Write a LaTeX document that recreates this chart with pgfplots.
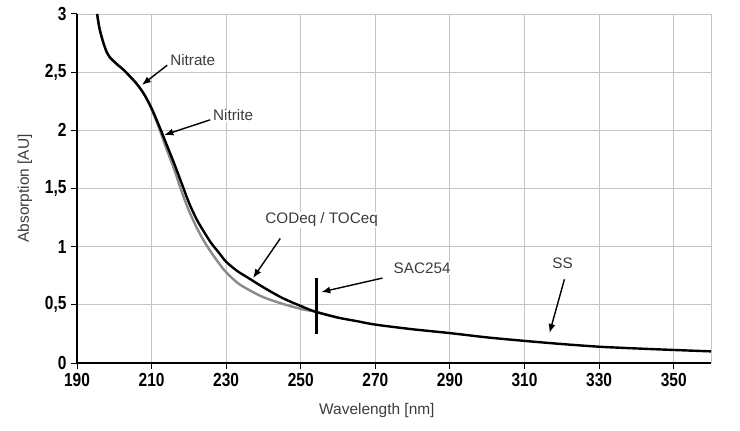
\documentclass[border=0pt]{standalone}
\usepackage{fontspec}
\setmainfont{Liberation Sans}
\newfontfamily\tickfont[FakeStretch=0.82]{Liberation Sans}
\usepackage{pgfplots}
\pgfplotsset{compat=1.18}
\usetikzlibrary{arrows.meta}

\definecolor{gridgray}{HTML}{C4C4C4}
\definecolor{labelgray}{HTML}{3C3C3C}
\definecolor{curvegray}{HTML}{8A8A8A}

% spectra
\pgfplotstableread{
lam A
195.4 3.00
196 2.88
197 2.76
198 2.67
199 2.62
200 2.59
201 2.56
202.5 2.52
204 2.47
206 2.40
208 2.31
210 2.19
212 2.04
214 1.88
216 1.72
218 1.55
220 1.38
222 1.24
224 1.13
226 1.03
228 0.95
230 0.87
233 0.79
236 0.73
240 0.65
245 0.56
250 0.49
254 0.44
260 0.39
265 0.36
270 0.33
280 0.29
290 0.257
300 0.22
310 0.19
320 0.163
330 0.14
340 0.125
350 0.112
360 0.10
}\blackspec

\pgfplotstableread{
lam A
195.4 3.00
196 2.88
197 2.76
198 2.67
199 2.62
200 2.59
201 2.56
202.5 2.52
204 2.47
206 2.40
208 2.31
210 2.18
212 2.02
214 1.84
216 1.67
218 1.48
220 1.31
222 1.17
224 1.05
226 0.95
228 0.86
230 0.78
233 0.69
236 0.63
240 0.565
245 0.51
250 0.465
254 0.44
260 0.39
}\grayspec

\begin{document}
\begin{tikzpicture}
\path[use as bounding box] (-77bp,-68bp) rectangle (663bp,363bp);
\begin{axis}[
    at={(0,0)}, anchor=south west,
    scale only axis,
    width=634bp, height=349bp,
    xmin=190, xmax=360,
    ymin=0, ymax=3,
    axis lines*=left,
    axis line style={black, line width=1.3bp},
    xtick={190,210,...,350},
    xticklabels={190,210,230,250,270,290,310,330,350},
    ytick={0,0.5,...,3},
    yticklabels={0,{0,5},1,{1,5},2,{2,5},3},
    extra x ticks={360},
    extra x tick labels={},
    extra x tick style={major tick length=0pt},
    tick align=outside,
    major tick length=6bp,
    tick style={black, line width=1bp},
    grid=major,
    grid style={gridgray, line width=0.9bp},
    ticklabel style={font=\tickfont\bfseries\fontsize{19}{21}\selectfont},
    xticklabel style={yshift=-1bp},
    yticklabel style={xshift=-1bp},
    xlabel={Wavelength [nm]},
    ylabel={Absorption [AU]},
    label style={font=\fontsize{15.5}{18}\selectfont, text=labelgray},
    xlabel style={at={(axis description cs:0.473,0)}, anchor=center, yshift=-48bp},
    ylabel style={at={(axis description cs:0,0.5)}, anchor=center, yshift=52bp},
]
\addplot[curvegray, line width=2.4bp, smooth] table[x=lam, y=A] {\grayspec};
\addplot[black, line width=2.4bp, smooth] table[x=lam, y=A] {\blackspec};

% SAC254 marker
\draw[black, line width=3bp] (axis cs:254.2,0.73) -- (axis cs:254.2,0.25);

\tikzset{ann/.style={font=\fontsize{15.3}{18}\selectfont, text=labelgray, fill=white, inner sep=1bp},
         arr/.style={black, line width=1.4bp, -{Latex[length=9bp,width=7bp]}}}

\draw[arr] (axis cs:214.2,2.56) -- (axis cs:207.4,2.39);
\node[ann, anchor=west] at (axis cs:214.7,2.605) {Nitrate};

\draw[arr] (axis cs:225.7,2.09) -- (axis cs:213.4,1.96);
\node[ann, anchor=west] at (axis cs:226.2,2.13) {Nitrite};

\draw[arr] (axis cs:244.5,1.07) -- (axis cs:237.2,0.73);
\node[ann, anchor=west] at (axis cs:240.2,1.23) {CODeq / TOCeq};

\draw[arr] (axis cs:271.9,0.73) -- (axis cs:255.5,0.61);
\node[ann, anchor=west] at (axis cs:274.6,0.817) {SAC254};

\draw[arr] (axis cs:320.7,0.72) -- (axis cs:316.7,0.258);
\node[ann] at (axis cs:320.2,0.86) {SS};
\end{axis}
\end{tikzpicture}
\end{document}
